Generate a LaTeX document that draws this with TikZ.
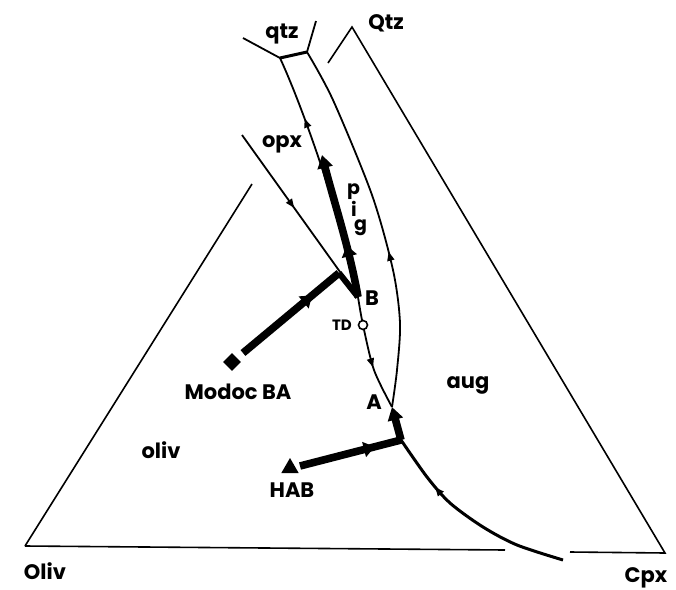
\documentclass[tikz,border=0pt]{standalone}
\usepackage{fontspec}
\setmainfont{Poppins}
\usetikzlibrary{arrows.meta,decorations.markings,shapes.geometric}
\tikzset{
	lbl/.style={font=\bfseries\fontsize{10.5}{12}\selectfont, inner sep=0pt},
	smalllbl/.style={font=\bfseries\fontsize{7.5}{9}\selectfont, inner sep=0pt},
	frame/.style={line width=0.8pt},
	boundary/.style={line width=0.9pt},
	heavy/.style={line width=1.5pt},
	thickpath/.style={line width=3.8pt},
	flowat/.style={postaction={decorate,decoration={markings,mark=at position #1 with {\arrow{Triangle[length=4.5pt,width=3.5pt]}}}}},
	bigflowat/.style={postaction={decorate,decoration={markings,mark=at position #1 with {\arrow{Triangle[length=5.5pt,width=7.5pt]}}}}},
}
\begin{document}
\begin{tikzpicture}[x=0.5pt, y=-0.5pt]
			%%%%% START %%%%%
			\useasboundingbox (0,0) rectangle (676,590);
			
			\coordinate (Q1) at (280,58);
			\coordinate (Q2) at (307,52);
			\coordinate (B) at (358,297);
			\coordinate (A) at (392,407);
			\coordinate (J) at (401,440);
			\coordinate (K) at (339,273);
			
			% triangles
			\draw[frame] (25,546) -- (505,550);
			\draw[frame] (25,546) -- (252,184);
			\draw[frame] (328,63) -- (352,27) -- (665,553) -- (570,552);
			
			% field boundaries
			\draw[heavy] (Q1) -- (Q2);
			\draw[boundary] (Q1) -- (243,38);
			\draw[boundary] (Q2) -- (316,21);
			\draw[boundary, flowat=0.74] (B) .. controls (342,220) and (304,110) .. (Q1);
			\draw[boundary, flowat=0.62] plot[smooth] coordinates {(358,297) (363,325) (374,370) (392,407)};
			\draw[boundary, flowat=0.42] plot[smooth] coordinates {(392,407) (397,370) (400,323) (393,270) (372,195) (333,100) (307,52)};
			\draw[heavy, flowat=0.72] plot[smooth] coordinates {(563,560) (517,545) (483,527) (450,503) (427,477) (401,440)};
			\draw[boundary, flowat=0.45] (242,135) -- (B);
			
			% Modoc BA
			\node[diamond, fill, minimum size=9pt, inner sep=0pt] (modoc) at (232,362) {};
			\coordinate (modocstart) at (243,353);
			\draw[thickpath, bigflowat=0.72] (modocstart) -- (K);
			\draw[line width=3pt] (K) -- (B);
			\coordinate (pigtop) at (322,155);
			\draw[thickpath, bigflowat=0.36, -{Triangle[length=6.5pt,width=7.5pt]}] (B) .. controls (350,250) and (332,195) .. (pigtop);
			
			% HAB
			\node[regular polygon, regular polygon sides=3, fill, minimum size=10pt, inner sep=0pt] (hab) at (290,468) {};
			\coordinate (habstart) at (300,466);
			\draw[thickpath, bigflowat=0.74] (habstart) -- (J);
			\draw[thickpath, -{Triangle[length=6.5pt,width=7.5pt]}] (J) -- (A);
			
			% thermal divide
			\node[circle, draw, fill=white, line width=0.8pt, minimum size=4.5pt, inner sep=0pt] (td) at (363,325) {};
			
			% labels
			\node[lbl] (olivv) at (45,571) {Oliv};
			\node[lbl] (cpxv) at (646,578) {Cpx};
			\node[lbl] (qtzv) at (386,23) {Qtz};
			\node[lbl] (qtzf) at (282,34) {qtz};
			\node[lbl] (opxf) at (282,144) {opx};
			\node[lbl] (olivf) at (161,450) {oliv};
			\node[lbl] (augf) at (468,385) {aug};
			\node[lbl, font=\bfseries\fontsize{9.5}{7}\selectfont, align=left] (pig) at (357,210) {p\\\hspace*{2pt}i\\\hspace*{3.5pt}g};
			\node[lbl] (modoclbl) at (238,392) {Modoc BA};
			\node[lbl] (hablbl) at (292,490) {HAB};
			\node[lbl] (ptA) at (374,402) {A};
			\node[lbl] (ptB) at (372,298) {B};
			\node[smalllbl] (tdlbl) at (342,325) {TD};
			
			%%%%% END %%%%%
\end{tikzpicture}
\end{document}
